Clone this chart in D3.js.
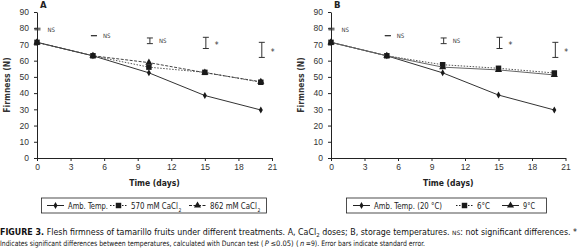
<!DOCTYPE html>
<html>
<head>
<meta charset="utf-8">
<script src="https://cdn.jsdelivr.net/npm/d3@7"></script>
<style>
  body { margin: 0; background: #fff; }
  svg { display: block; font-family: "Liberation Sans Narrow", "DejaVu Sans Condensed", sans-serif; }
  .axis path, .axis line { stroke: #222; }
  .axis text { fill: #333; font-size: 8.5px; }
  .cap { white-space: pre; }
</style>
</head>
<body>
<div id="chart"></div>
<script>
var width = 579, height = 251;

// shared data
var days = [0, 5, 10, 15, 20];
var xTicks = [0, 3, 6, 9, 12, 15, 18, 21];
var yTicks = [0, 10, 20, 30, 40, 50, 60, 70, 80, 90];

// panel A - CaCl2 doses
var ambA    = [71.3, 63, 52.5, 38.5, 29.6];
var cacl570 = [71.3, 63, 56.0, 52.8, 46.7];
var cacl862 = [71.3, 63, 58.8, 52.6, 47.0];
var errLowA  = [79.0, 75.4, 70.5, 67.5, 62.0];
var errHighA = [80.0, 75.4, 74.0, 74.4, 71.3];
var sigA = ["NS", "NS", "NS", "*", "*"];
var legendA = ["Amb. Temp.", "570 mM CaCl", "862 mM CaCl"];

// panel B - storage temperatures
var ambB   = [71.3, 63, 52.5, 38.8, 29.6];
var temp6  = [71.3, 63, 57.5, 55.3, 52.4];
var temp9  = [71.3, 63, 56.0, 54.3, 51.2];
var errLowB  = [79.0, 75.4, 70.5, 67.5, 62.0];
var errHighB = [80.0, 75.4, 74.0, 74.4, 71.3];
var sigB = ["NS", "NS", "NS", "*", "*"];
var legendB = ["Amb. Temp. (20 °C)", "6°C", "9°C"];

var svg = d3.select("#chart").append("svg")
    .attr("width", width)
    .attr("height", height);

var symbols = { diamond: d3.symbolDiamond, square: d3.symbolSquare, triangle: d3.symbolTriangle };

function drawPanel(opt) {
    var x = d3.scaleLinear().domain([0, 21]).range([opt.x0, opt.x1]);
    var y = d3.scaleLinear().domain([0, 90]).range([158, 12]);

    var g = svg.append("g");

    g.append("g")
        .attr("class", "axis")
        .attr("transform", "translate(0,158)")
        .call(d3.axisBottom(x).tickValues(xTicks).tickSize(3).tickPadding(3).tickSizeOuter(0));

    g.append("g")
        .attr("class", "axis")
        .attr("transform", "translate(" + opt.x0 + ",0)")
        .call(d3.axisLeft(y).tickValues(yTicks).tickSize(3).tickPadding(5).tickSizeOuter(0));

    g.append("text")
        .attr("x", opt.x0 + 3)
        .attr("y", 8)
        .attr("font-size", "9.5px")
        .attr("font-weight", "bold")
        .attr("fill", "#222")
        .text(opt.label);

    g.append("text")
        .attr("transform", "translate(" + (opt.x0 - 27) + ",85) rotate(-90)")
        .attr("text-anchor", "middle")
        .attr("font-size", "8.5px")
        .attr("font-weight", "bold")
        .attr("fill", "#333")
        .text("Firmness (N)");

    g.append("text")
        .attr("x", (opt.x0 + opt.x1) / 2)
        .attr("y", 186)
        .attr("text-anchor", "middle")
        .attr("font-size", "8.5px")
        .attr("font-weight", "bold")
        .attr("fill", "#222")
        .text("Time (days)");

    // lines + markers
    opt.series.forEach(function(s) {
        var line = d3.line()
            .x(function(d, i) { return x(days[i]); })
            .y(function(d) { return y(d); });
        g.append("path")
            .attr("d", line(s.values))
            .attr("fill", "none")
            .attr("stroke", s.color)
            .attr("stroke-width", 1)
            .attr("stroke-dasharray", s.dash);
        g.selectAll(null)
            .data(s.values)
            .enter().append("path")
            .attr("transform", function(d, i) { return "translate(" + x(days[i]) + "," + y(d) + ")"; })
            .attr("d", d3.symbol().type(symbols[s.symbol]).size(s.size))
            .attr("fill", "#1a1a1a");
    });

    // error bars
    var cap = 3;
    days.forEach(function(day, i) {
        var cx = x(day) + (i == 0 ? 0.5 : 1);
        var lo = y(opt.errLow[i]), hi = y(opt.errHigh[i]);
        g.append("line").attr("x1", cx).attr("x2", cx).attr("y1", lo).attr("y2", hi)
            .attr("stroke", "#333");
        g.append("line").attr("x1", cx - cap).attr("x2", cx + cap).attr("y1", lo).attr("y2", lo)
            .attr("stroke", "#333");
        g.append("line").attr("x1", cx - cap).attr("x2", cx + cap).attr("y1", hi).attr("y2", hi)
            .attr("stroke", "#333");
        var t = opt.sig[i];
        g.append("text")
            .attr("x", cx + (i == 0 ? 10 : 9))
            .attr("y", (lo + hi) / 2 + (t == "*" ? 5 : 2.5))
            .attr("font-size", t == "*" ? "8.5px" : "6px")
            .attr("fill", "#333")
            .text(t);
    });

    // legend
    g.append("rect")
        .attr("x", opt.legend.x)
        .attr("y", 198)
        .attr("width", opt.legend.w)
        .attr("height", 15)
        .attr("fill", "none")
        .attr("stroke", "#222")
        .attr("stroke-width", 0.8);

    opt.series.forEach(function(s, i) {
        var lx = opt.legend.items[i];
        var len = opt.legend.lens[i];
        g.append("line")
            .attr("x1", lx).attr("x2", lx + 17)
            .attr("y1", 205.5).attr("y2", 205.5)
            .attr("stroke", "#222")
            .attr("stroke-dasharray", s.dash);
        g.append("path")
            .attr("transform", "translate(" + (lx + 8.5) + ",205.5)")
            .attr("d", d3.symbol().type(symbols[s.symbol]).size(s.size))
            .attr("fill", "#1a1a1a");
        g.append("text")
            .attr("x", lx + 21)
            .attr("y", 209)
            .attr("font-size", "8px")
            .attr("fill", "#222")
            .attr("textLength", len)
            .attr("lengthAdjust", "spacingAndGlyphs")
            .text(opt.names[i]);
        if (s.sub) {
            g.append("text")
                .attr("x", lx + 21 + len + 0.5)
                .attr("y", 211.5)
                .attr("font-size", "5px")
                .attr("fill", "#222")
                .text("2");
        }
    });
}

drawPanel({
    label: "A", x0: 37, x1: 272,
    errLow: errLowA, errHigh: errHighA, sig: sigA, names: legendA,
    series: [
        { values: ambA, color: "#333", dash: null, symbol: "diamond", size: 14 },
        { values: cacl570, color: "#555", dash: "1.5,1.5", symbol: "square", size: 30, sub: true },
        { values: cacl862, color: "#444", dash: "3,1.5", symbol: "triangle", size: 22, sub: true }
    ],
    legend: { x: 41.5, w: 225, items: [47, 110, 189], lens: [40, 47, 47] }
});

drawPanel({
    label: "B", x0: 331, x1: 565.5,
    errLow: errLowB, errHigh: errHighB, sig: sigB, names: legendB,
    series: [
        { values: ambB, color: "#333", dash: null, symbol: "diamond", size: 14 },
        { values: temp6, color: "#555", dash: "1.5,1.5", symbol: "square", size: 30 },
        { values: temp9, color: "#666", dash: null, symbol: "triangle", size: 22 }
    ],
    legend: { x: 346.5, w: 200, items: [353, 456, 502], lens: [68, 13, 12] }
});

// caption: each run is its own text; runs marked "fixed" keep their width,
// the others are squeezed so the whole line fits the target width
function caption(parts, y, target, size) {
    var nodes = parts.map(function(p) {
        var t = svg.append("text")
            .attr("class", "cap")
            .attr("y", y + (p.sub ? 2 : 0))
            .attr("font-size", p.size || size)
            .attr("font-weight", p.bold ? "bold" : null)
            .attr("font-style", p.italic ? "italic" : null)
            .attr("fill", "#111")
            .text(p.t);
        return { sel: t, w: t.node().getComputedTextLength(), fixed: !!p.fixed, pad: p.italic ? 1.5 : 0 };
    });
    var fixedW = d3.sum(nodes, function(n) { return n.fixed ? n.w : 0; });
    var pads = d3.sum(nodes, function(n) { return 2 * n.pad; });
    var fitW = d3.sum(nodes, function(n) { return n.fixed ? 0 : n.w; });
    var k = (target - fixedW - pads) / fitW, x = 0;
    nodes.forEach(function(n) {
        x += n.pad;
        n.sel.attr("x", x);
        if (n.fixed) {
            x += n.w;
        } else {
            n.sel.attr("textLength", n.w * k).attr("lengthAdjust", "spacingAndGlyphs");
            x += n.w * k;
        }
        x += n.pad;
    });
}

caption([
    { t: "FIGURE 3. ", bold: true },
    { t: "Flesh firmness of tamarillo fruits under different treatments. A, CaCl" },
    { t: "2", sub: true, size: "5.5px" },
    { t: " doses; B, storage temperatures. " },
    { t: "NS", size: "6px" },
    { t: ": not significant differences. *" }
], 235, 577, "8px");

caption([
    { t: "Indicates significant differences between temperatures, calculated with Duncan test (" },
    { t: "P", italic: true, fixed: true },
    { t: "≤0.05) (", fixed: true },
    { t: "n", italic: true, fixed: true },
    { t: "=9). Error bars indicate standard error." }
], 246, 425, "7.5px");
</script>
</body>
</html>
